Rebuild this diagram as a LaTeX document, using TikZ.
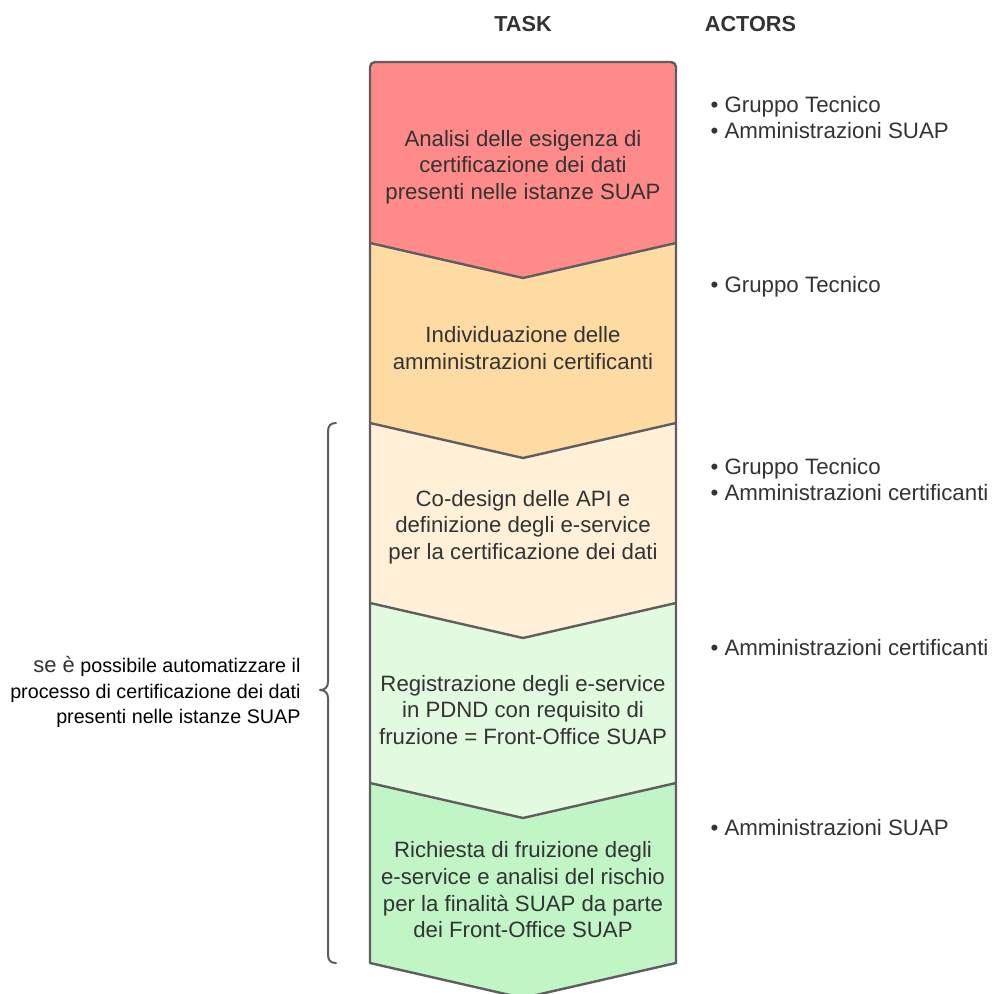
\documentclass[tikz,border=0pt]{standalone}
\usepackage{fontspec}
\setmainfont{Liberation Sans}
\definecolor{txt}{HTML}{333333}
\definecolor{edge}{HTML}{5E5E5E}
\definecolor{cA}{HTML}{FF8A8A}
\definecolor{cB}{HTML}{FFDBA4}
\definecolor{cC}{HTML}{FFF0D7}
\definecolor{cD}{HTML}{E2FADF}
\definecolor{cE}{HTML}{C2F5C6}
\tikzset{
  stage/.style={draw=edge, line width=2.4pt, line join=round},
  tasktext/.style={text=txt, align=center, font=\fontsize{22.2}{26.7}\selectfont},
  actortext/.style={text=txt, align=left, anchor=west, font=\fontsize{22.3}{26}\selectfont},
  header/.style={text=txt, font=\fontsize{21.7}{25}\selectfont\bfseries},
  bracestyle/.style={draw=edge, line width=2pt, line cap=round, line join=round}
}
\begin{document}
\begin{tikzpicture}[x=1pt,y=-1pt]
\useasboundingbox (0,0) rectangle (992,994);
\begin{scope}
\clip (0,0) rectangle (992,994);
% stage shapes
\fill[cA, rounded corners=5] (370,243) -- (370,62) -- (676,62) [sharp corners] -- (676,243) -- (523,278) -- cycle;
\draw[stage, rounded corners=5] (370,243) -- (370,62) -- (676,62) -- (676,243);
\fill[cB] (370,243) -- (523,278) -- (676,243) -- (676,423) -- (523,458) -- (370,423) -- cycle;
\fill[cC] (370,423) -- (523,458) -- (676,423) -- (676,603) -- (523,638) -- (370,603) -- cycle;
\fill[cD] (370,603) -- (523,638) -- (676,603) -- (676,783) -- (523,818) -- (370,783) -- cycle;
\fill[cE] (370,783) -- (523,818) -- (676,783) -- (676,963) -- (523,998) -- (370,963) -- cycle;
\draw[stage] (370,243) -- (370,963) -- (523,998) -- (676,963) -- (676,243);
\draw[stage] (370,243) -- (523,278) -- (676,243);
\draw[stage] (370,423) -- (523,458) -- (676,423);
\draw[stage] (370,603) -- (523,638) -- (676,603);
\draw[stage] (370,783) -- (523,818) -- (676,783);
\end{scope}
% headers
\node[header] (hTask) at (523,24) {TASK};
\node[header] (hActors) at (750.5,24) {ACTORS};
% task texts
\node[tasktext] (t1) at (523,167) {Analisi delle esigenza di\\certificazione dei dati\\presenti nelle istanze SUAP};
\node[tasktext] (t2) at (523,348) {Individuazione delle\\amministrazioni certificanti};
\node[tasktext] (t3) at (523,527) {Co-design delle API e\\definizione degli e-service\\per la certificazione dei dati};
\node[tasktext] (t4) at (523,710) {Registrazione degli e-service\\in PDND con requisito di\\fruzione = Front-Office SUAP};
\node[tasktext] (t5) at (523,890) {Richiesta di fruizione degli\\e-service e analisi del rischio\\per la finalità SUAP da parte\\dei Front-Office SUAP};
% actors
\node[actortext] (a1) at (707,118) {• Gruppo Tecnico\\• Amministrazioni SUAP};
\node[actortext] (a2) at (707,287) {• Gruppo Tecnico};
\node[actortext] (a3) at (707,480) {• Gruppo Tecnico\\• Amministrazioni certificanti};
\node[actortext] (a4) at (707,648) {• Amministrazioni certificanti};
\node[actortext] (a5) at (707,828) {• Amministrazioni SUAP};
% brace
\draw[bracestyle] (336,423) .. controls (330,423) and (328,426) .. (328,432)
  -- (328,682) .. controls (328,687) and (325,690) .. (320,690)
  .. controls (325,690) and (328,693) .. (328,698)
  -- (328,954) .. controls (328,960) and (330,963) .. (336,963);
\coordinate (braceTip) at (320,690);
\node[anchor=east, align=right, text=black, font=\fontsize{19.7}{25.5}\selectfont] (cond) at (304,692)
  {{\color{txt}\fontsize{22}{25.5}\selectfont se è} possibile automatizzare il\\processo di certificazione dei dati\\presenti nelle istanze SUAP};
\end{tikzpicture}
\end{document}
